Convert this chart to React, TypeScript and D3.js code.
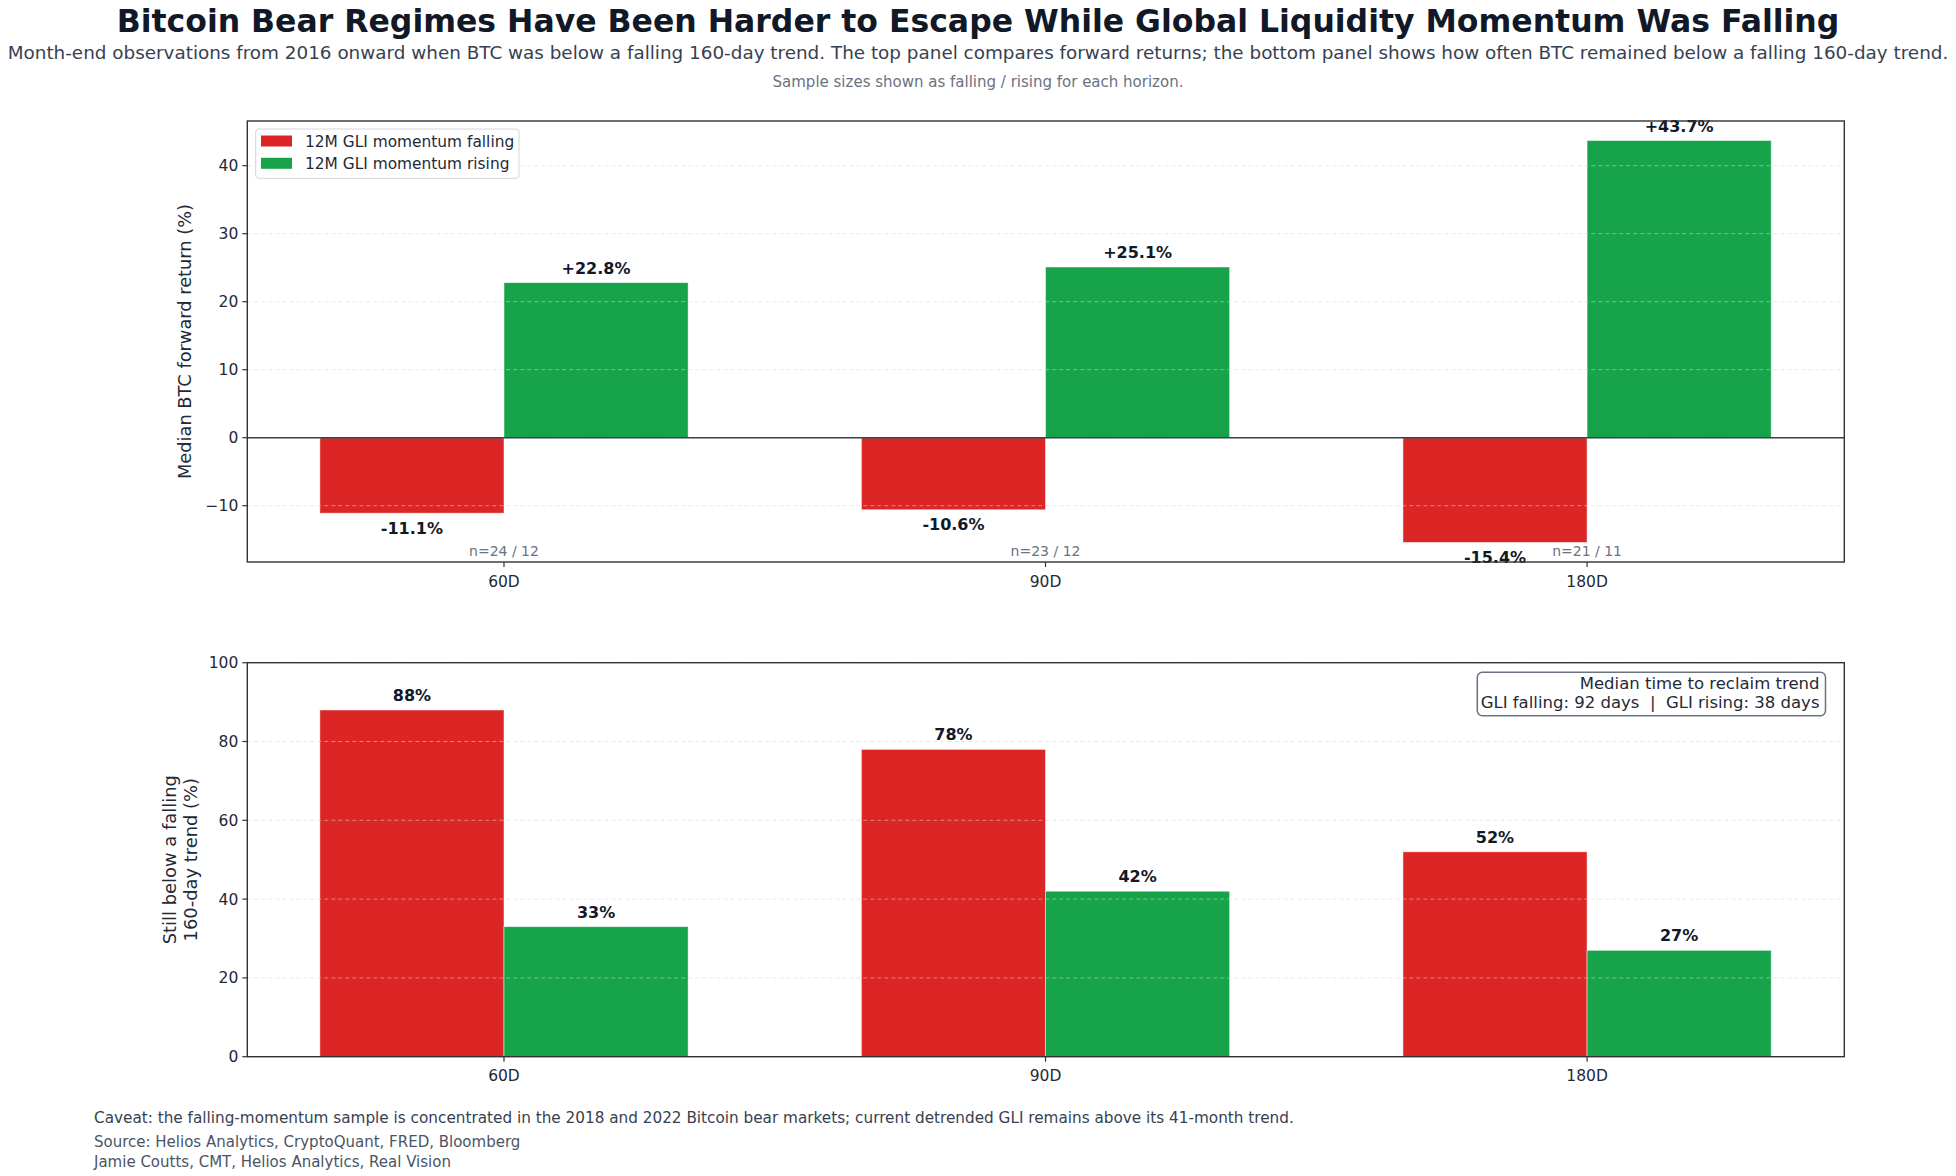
import React from 'react';
import * as d3 from 'd3';

const horizons = ['60D', '90D', '180D'];
const returnFalling = [-11.1, -10.6, -15.4];
const returnRising = [22.8, 25.1, 43.7];
const nFalling = [24, 23, 21];
const nRising = [12, 12, 11];
const stillBelowFalling = [88, 78, 52];
const stillBelowRising = [33, 42, 27];
const medianDaysFalling = 92;
const medianDaysRising = 38;
const topTicks = [-10, 0, 10, 20, 30, 40];
const bottomTicks = [0, 20, 40, 60, 80, 100];

const RED = '#dc2626';
const GREEN = '#16a34a';
const FONT = 'DejaVu Sans, sans-serif';

const W = 1956;
const H = 1176;
const left = 247.3;
const right = 1844.3;
const barW = 0.34;

const x = d3.scaleLinear().domain([-0.474, 2.475]).range([left, right]);
const yTop = d3.scaleLinear().domain([-18.28, 46.57]).range([562, 121]);
const yBot = d3.scaleLinear().domain([0, 100]).range([1056.7, 662.7]);

const fmtSigned = (v: number) => (v > 0 ? '+' : '') + v.toFixed(1) + '%';
const fmtTick = (v: number) => (v < 0 ? '\u2212' + Math.abs(v) : String(v));

function Panel({ y, ticks, falling, rising, label, signed }: any) {
  const [y0, y1] = y.range();
  const zero = y(0);
  return (
    <g>
      {/* bars */}
      {horizons.map((h, i) => (
        <g key={h}>
          <rect x={x(i - barW)} width={x(barW) - x(0)} y={Math.min(y(falling[i]), zero)}
            height={Math.abs(y(falling[i]) - zero)} fill={RED} stroke="#fff" strokeOpacity={0.6} strokeWidth={0.8} />
          <rect x={x(i)} width={x(barW) - x(0)} y={Math.min(y(rising[i]), zero)}
            height={Math.abs(y(rising[i]) - zero)} fill={GREEN} stroke="#fff" strokeOpacity={0.6} strokeWidth={0.8} />
        </g>
      ))}
      {/* grid */}
      {ticks.map((t: number) => (
        <line key={t} x1={left} x2={right} y1={y(t)} y2={y(t)} stroke="#d1d5db" strokeOpacity={0.55}
          strokeDasharray="4,3" strokeWidth={1} />
      ))}
      {signed && <line x1={left} x2={right} y1={zero} y2={zero} stroke="#374151" strokeWidth={1.6} />}
      {/* value labels */}
      {horizons.map((h, i) => {
        const items = [
          { v: falling[i], cx: x(i - barW / 2) },
          { v: rising[i], cx: x(i + barW / 2) },
        ];
        return items.map((d, k) => (
          <text key={h + k} x={d.cx} y={d.v >= 0 ? y(d.v) - 9 : y(d.v) + 20.5} textAnchor="middle"
            fontFamily={FONT} fontWeight="bold" fontSize={16} fill="#111827">
            {signed ? fmtSigned(d.v) : d.v + '%'}
          </text>
        ));
      })}
      {/* spines */}
      <rect x={left} y={y1} width={right - left} height={y0 - y1} fill="none" stroke="#333" strokeWidth={1.4} />
      {/* y axis */}
      {ticks.map((t: number) => (
        <g key={'t' + t}>
          <line x1={left - 5} x2={left} y1={y(t)} y2={y(t)} stroke="#333" strokeWidth={1.2} />
          <text x={left - 9} y={y(t) + 5.5} textAnchor="end" fontFamily={FONT} fontSize={15.5} fill="#1f2937">
            {fmtTick(t)}
          </text>
        </g>
      ))}
      {/* x axis */}
      {horizons.map((h, i) => (
        <g key={'x' + h}>
          <line x1={x(i)} x2={x(i)} y1={y0} y2={y0 + 5} stroke="#333" strokeWidth={1.2} />
          <text x={x(i)} y={y0 + 24.5} textAnchor="middle" fontFamily={FONT} fontSize={15.5} fill="#1f2937">{h}</text>
        </g>
      ))}
      {label}
    </g>
  );
}

export default function App() {
  const topMid = (121 + 562) / 2;
  const botMid = (662.7 + 1056.7) / 2;
  return (
    <svg width={W} height={H} viewBox={`0 0 ${W} ${H}`}
      style={{ position: 'absolute', left: 0, top: 0, background: '#fff' }}>
      <rect width={W} height={H} fill="#fff" />
      <text x={978} y={31.5} textAnchor="middle" fontFamily={FONT} fontWeight="bold" fontSize={31.5} fill="#111827">
        Bitcoin Bear Regimes Have Been Harder to Escape While Global Liquidity Momentum Was Falling
      </text>
      <text x={978} y={58.5} textAnchor="middle" fontFamily={FONT} fontSize={18.37} fill="#374151">
        Month-end observations from 2016 onward when BTC was below a falling 160-day trend. The top panel compares forward returns; the bottom panel shows how often BTC remained below a falling 160-day trend.
      </text>
      <text x={978} y={86.5} textAnchor="middle" fontFamily={FONT} fontSize={15} fill="#6b7280">
        Sample sizes shown as falling / rising for each horizon.
      </text>

      <Panel y={yTop} ticks={topTicks} falling={returnFalling} rising={returnRising} signed
        label={
          <text transform={`translate(191,${topMid}) rotate(-90)`} textAnchor="middle" fontFamily={FONT}
            fontSize={17.8} fill="#1f2937">Median BTC forward return (%)</text>
        } />
      {horizons.map((h, i) => (
        <text key={'n' + h} x={x(i)} y={555.5} textAnchor="middle" fontFamily={FONT} fontSize={14} fill="#6b7280">
          {`n=${nFalling[i]} / ${nRising[i]}`}
        </text>
      ))}
      {/* legend */}
      <g>
        <rect x={255.7} y={129} width={263.3} height={49.3} rx={3} fill="#fff" fillOpacity={0.9}
          stroke="#d1d5db" strokeWidth={1} />
        <rect x={261} y={135.5} width={31} height={11} fill={RED} />
        <rect x={261} y={157.8} width={31} height={11} fill={GREEN} />
        <text x={305} y={146.7} fontFamily={FONT} fontSize={15.4} fill="#1f2937">12M GLI momentum falling</text>
        <text x={305} y={169} fontFamily={FONT} fontSize={15.4} fill="#1f2937">12M GLI momentum rising</text>
      </g>

      <Panel y={yBot} ticks={bottomTicks} falling={stillBelowFalling} rising={stillBelowRising} signed={false}
        label={
          <text transform={`translate(176,${botMid}) rotate(-90)`} textAnchor="middle" fontFamily={FONT}
            fontSize={17.9} fill="#1f2937">
            <tspan x={0} dy={0}>Still below a falling</tspan>
            <tspan x={0} dy={20.5}>160-day trend (%)</tspan>
          </text>
        } />
      {/* annotation */}
      <g>
        <rect x={1477.3} y={672.3} width={348.2} height={43.4} rx={5} fill="#fff" stroke="#6b7280" strokeWidth={1.5} />
        <text x={1819.5} y={689} textAnchor="end" fontFamily={FONT} fontSize={16.5} fill="#1f2937">
          Median time to reclaim trend
        </text>
        <text x={1819.5} y={707.8} textAnchor="end" fontFamily={FONT} fontSize={16.5} fill="#1f2937"
          style={{ whiteSpace: 'pre' }}>
          {`GLI falling: ${medianDaysFalling} days  |  GLI rising: ${medianDaysRising} days`}
        </text>
      </g>

      {/* footer */}
      <text x={94} y={1123.3} fontFamily={FONT} fontSize={15.25} fill="#374151">
        Caveat: the falling-momentum sample is concentrated in the 2018 and 2022 Bitcoin bear markets; current detrended GLI remains above its 41-month trend.
      </text>
      <text x={94} y={1146.7} fontFamily={FONT} fontSize={15} fill="#4b5563">
        Source: Helios Analytics, CryptoQuant, FRED, Bloomberg
      </text>
      <text x={94} y={1166.7} fontFamily={FONT} fontSize={15} fill="#4b5563">
        Jamie Coutts, CMT, Helios Analytics, Real Vision
      </text>
    </svg>
  );
}
